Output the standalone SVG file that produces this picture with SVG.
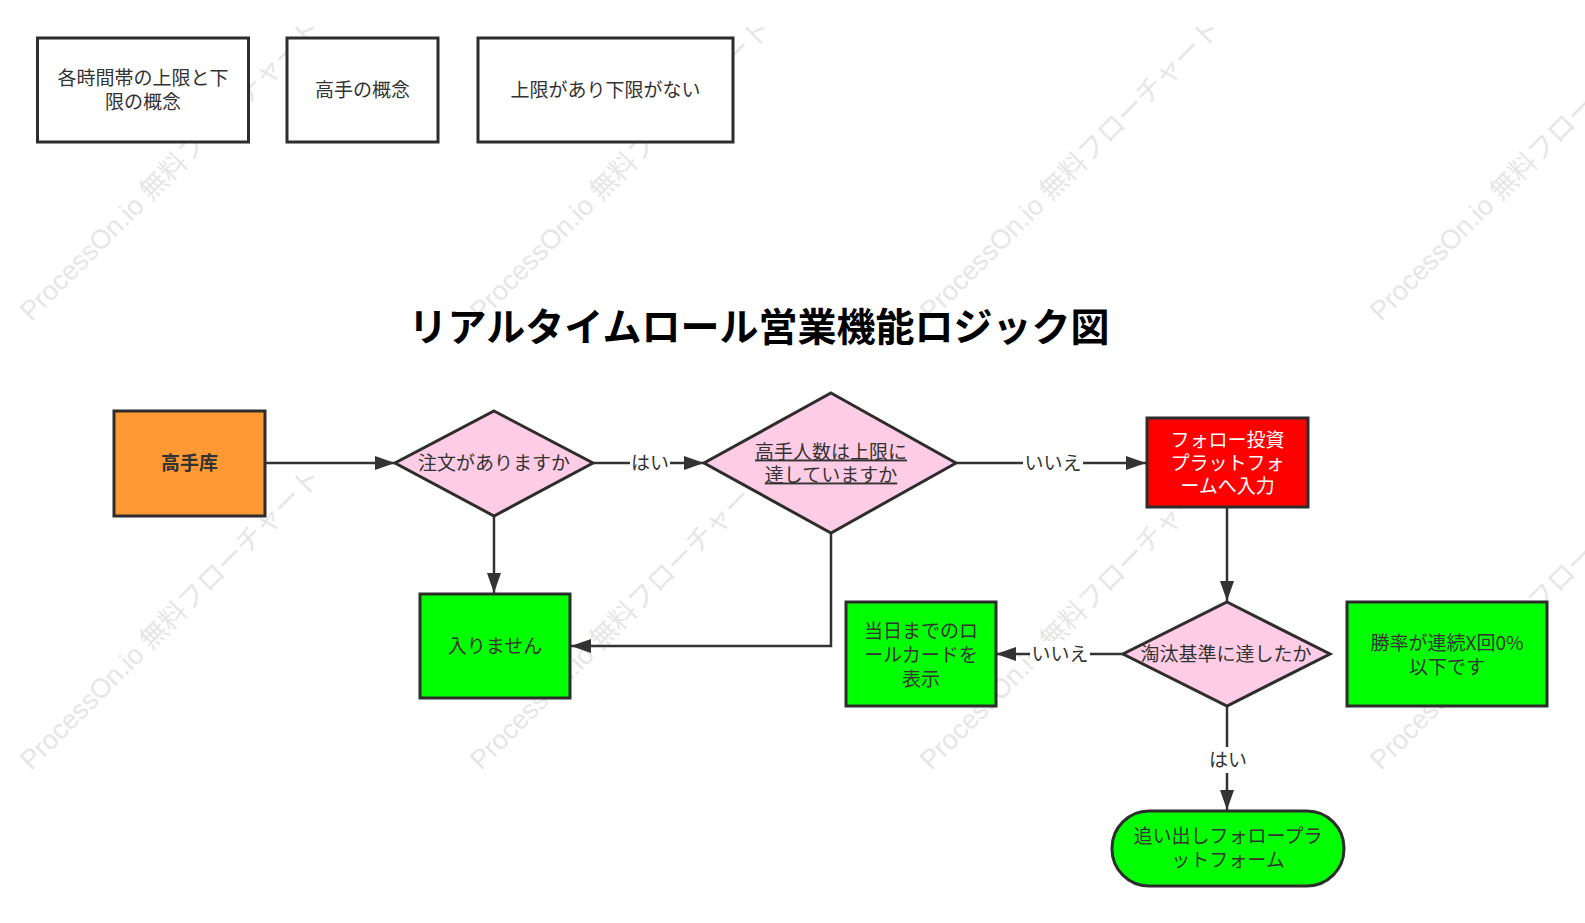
<svg xmlns="http://www.w3.org/2000/svg" width="1585" height="923" viewBox="0 0 1585 923">
<defs>
<style>
.wm{font-family:"Liberation Sans","Noto Sans CJK JP",sans-serif;font-size:27px;fill:#e6e6e6}
.node{stroke:#2d2d2d;stroke-width:3}
.t{font-family:"Noto Sans CJK JP",sans-serif;font-size:19px;fill:#333;text-anchor:middle}
.tw{fill:#fff}
.b{font-weight:bold}
.conn{fill:none;stroke:#333;stroke-width:2.5}
.lbl{font-family:"Noto Sans CJK JP",sans-serif;font-size:19px;fill:#333;text-anchor:middle}
.title{font-family:"Noto Sans CJK JP",sans-serif;font-size:39px;font-weight:bold;fill:#000;text-anchor:middle}
</style>
<marker id="arr" viewBox="0 0 20 14" refX="20" refY="7" markerWidth="20" markerHeight="14" markerUnits="userSpaceOnUse" orient="auto">
<path d="M0,0 L20,7 L0,14 Z" fill="#333"/>
</marker>
</defs>
<rect width="1585" height="923" fill="#fff"/>
<g id="watermarks">
<text class="wm" transform="translate(31,322) rotate(-45)">ProcessOn.io 無料フローチャート</text>
<text class="wm" transform="translate(481,322) rotate(-45)">ProcessOn.io 無料フローチャート</text>
<text class="wm" transform="translate(931,322) rotate(-45)">ProcessOn.io 無料フローチャート</text>
<text class="wm" transform="translate(1381,322) rotate(-45)">ProcessOn.io 無料フローチャート</text>
<text class="wm" transform="translate(31,771) rotate(-45)">ProcessOn.io 無料フローチャート</text>
<text class="wm" transform="translate(481,771) rotate(-45)">ProcessOn.io 無料フローチャート</text>
<text class="wm" transform="translate(931,771) rotate(-45)">ProcessOn.io 無料フローチャート</text>
<text class="wm" transform="translate(1381,771) rotate(-45)">ProcessOn.io 無料フローチャート</text>
</g>
<g id="note1">
<rect class="node" x="37.5" y="38" width="211" height="104" fill="#fff"/>
<text class="t" x="143" y="84.5">各時間帯の上限と下</text>
<text class="t" x="143" y="108.5">限の概念</text>
</g>
<g id="note2">
<rect class="node" x="287" y="38" width="151" height="104" fill="#fff"/>
<text class="t" x="362.5" y="96.5">高手の概念</text>
</g>
<g id="note3">
<rect class="node" x="478" y="38" width="255" height="104" fill="#fff"/>
<text class="t" x="605.5" y="96.5">上限があり下限がない</text>
</g>
<g id="title">
<text class="title" x="759" y="341">リアルタイムロール営業機能ロジック図</text>
</g>
<g id="connectors">
<line class="conn" x1="265" y1="463" x2="395" y2="463" marker-end="url(#arr)"/>
<line class="conn" x1="593" y1="463" x2="704" y2="463" marker-end="url(#arr)"/>
<line class="conn" x1="956" y1="463" x2="1146" y2="463" marker-end="url(#arr)"/>
<line class="conn" x1="494" y1="516" x2="494" y2="593" marker-end="url(#arr)"/>
<polyline class="conn" points="831,533 831,646 571,646" marker-end="url(#arr)"/>
<line class="conn" x1="1227" y1="507" x2="1227" y2="601" marker-end="url(#arr)"/>
<line class="conn" x1="1123" y1="654" x2="996" y2="654" marker-end="url(#arr)"/>
<line class="conn" x1="1227" y1="707" x2="1227" y2="810" marker-end="url(#arr)"/>
<rect x="630" y="450" width="40" height="26" fill="#fff"/>
<text class="lbl" x="650" y="469.5">はい</text>
<rect x="1023" y="450" width="60" height="26" fill="#fff"/>
<text class="lbl" x="1053" y="469.5">いいえ</text>
<rect x="1030" y="641" width="60" height="26" fill="#fff"/>
<text class="lbl" x="1060" y="660.5">いいえ</text>
<rect x="1207" y="747" width="40" height="26" fill="#fff"/>
<text class="lbl" x="1228" y="766.5">はい</text>
</g>
<g id="master">
<rect class="node" x="114" y="411" width="151" height="105" fill="#FF9933"/>
<text class="t b" x="189.5" y="470">高手库</text>
</g>
<g id="d_order">
<polygon class="node" points="494,411 593,463 494,516 395,463" fill="#FFCCE6"/>
<text class="t" x="494" y="469.5">注文がありますか</text>
</g>
<g id="d_limit">
<polygon class="node" points="831,393 956,463 831,533 704,463" fill="#FFCCE6"/>
<text class="t" x="831" y="458.5" text-decoration="underline">高手人数は上限に</text>
<text class="t" x="831" y="481.5" text-decoration="underline">達していますか</text>
</g>
<g id="follow">
<rect class="node" x="1147" y="418" width="161" height="89" fill="#FF0000"/>
<text class="t tw" x="1227.5" y="446.5">フォロー投資</text>
<text class="t tw" x="1227.5" y="469.5">プラットフォ</text>
<text class="t tw" x="1227.5" y="492.5">ームへ入力</text>
</g>
<g id="noenter">
<rect class="node" x="420" y="594" width="150" height="104" fill="#00FF00"/>
<text class="t" x="495" y="652.5">入りません</text>
</g>
<g id="d_elim">
<polygon class="node" points="1227,602 1330,654 1227,706 1123,654" fill="#FFCCE6"/>
<text class="t" x="1226" y="660.5">淘汰基準に達したか</text>
</g>
<g id="rolecard">
<rect class="node" x="846" y="602" width="150" height="104" fill="#00FF00"/>
<text class="t" x="921" y="637.5">当日までのロ</text>
<text class="t" x="921" y="661.5">ールカードを</text>
<text class="t" x="921" y="685.5">表示</text>
</g>
<g id="winrate">
<rect class="node" x="1347" y="602" width="200" height="104" fill="#00FF00"/>
<text class="t" x="1447" y="649.5">勝率が連続X回0%</text>
<text class="t" x="1447" y="673.5">以下です</text>
</g>
<g id="kickout">
<rect class="node" x="1112" y="811" width="232" height="75" rx="37" ry="37" fill="#00FF00"/>
<text class="t" x="1228" y="842.5">追い出しフォロープラ</text>
<text class="t" x="1228" y="866.5">ットフォーム</text>
</g>
</svg>
